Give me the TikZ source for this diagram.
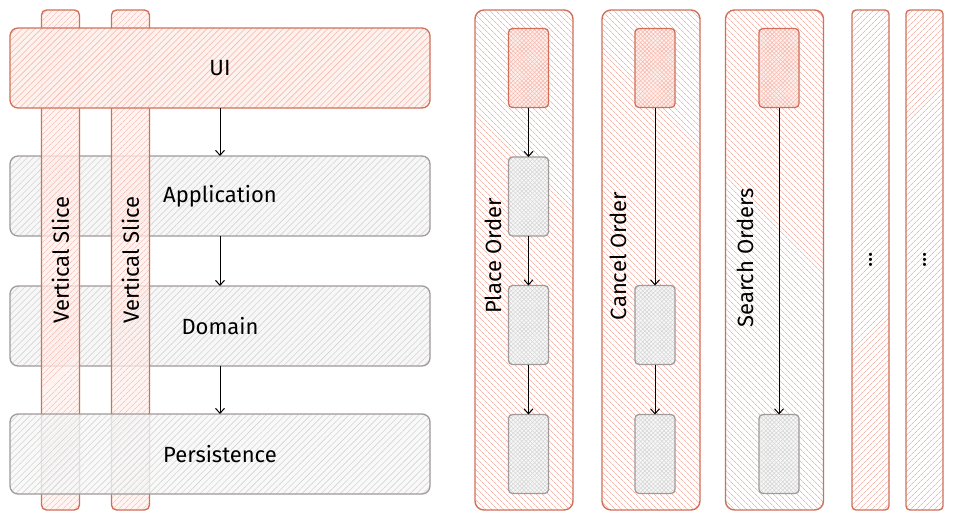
\documentclass[tikz,border=0pt]{standalone}
\usepackage{fontspec}
\setmainfont{Fira Sans}
\usepackage{tikz}
\usetikzlibrary{arrows.meta,patterns.meta}

\definecolor{slicered}{HTML}{D0705A}
\definecolor{slicepink}{HTML}{F5B7AC}
\definecolor{slicepale}{HTML}{FFF0EC}
\definecolor{layergrey}{HTML}{A19A9A}
\definecolor{layerhatch}{HTML}{D4D4D4}
\definecolor{layerpale}{HTML}{F7F7F7}

\begin{document}
\begin{tikzpicture}[x=1pt, y=-1pt,
    font=\fontsize{22}{26}\selectfont,
    every node/.style={inner sep=0pt, outer sep=0pt},
    layer/.style={draw=layergrey, line width=1.3pt, rounded corners=8pt,
        minimum width=420pt, minimum height=80pt,
        preaction={fill=layerpale},
        pattern={Lines[angle=45, distance=4.5pt, line width=.6pt]},
        pattern color=layerhatch},
    uilayer/.style={layer, draw=slicered, fill opacity=.8, text opacity=1,
        preaction={fill=slicepale},
        pattern color=slicepink},
    slice/.style={draw=slicered, line width=1.4pt, rounded corners=5pt,
        minimum width=500pt, minimum height=38pt, rotate=90,
        fill opacity=.75, text opacity=1,
        preaction={fill=slicepale},
        pattern={Lines[angle=45, distance=4pt, line width=.7pt]},
        pattern color=slicepink},
    column/.style={draw=slicered, line width=1.4pt, rounded corners=9pt,
        minimum width=98pt, minimum height=500pt,
        preaction={fill=white},
        pattern={Lines[angle=-45, distance=4pt, line width=.7pt]},
        pattern color=slicepink},
    thincol/.style={column, rounded corners=4pt, minimum width=500pt,
        minimum height=37pt, rotate=90,
        pattern={Lines[angle=45, distance=4pt, line width=.7pt]}},
    cell/.style={draw=layergrey, line width=1.3pt, rounded corners=4pt,
        minimum width=40pt, minimum height=79pt,
        preaction={fill=layerpale},
        preaction={pattern={Lines[angle=45, distance=3pt, line width=.5pt]},
            pattern color=layerhatch},
        pattern={Lines[angle=-45, distance=3pt, line width=.5pt]},
        pattern color=layerhatch},
    hotcell/.style={cell, draw=slicered,
        preaction={fill=slicepale},
        preaction={pattern={Lines[angle=45, distance=3pt, line width=.5pt]},
            pattern color=slicepink},
        pattern color=slicepink},
    flow/.style={-{Straight Barb[length=5pt, width=9pt]}, line width=1pt, black}]

    \useasboundingbox (0,0) rectangle (954,522);

    % layers
    \node[layer] (app) at (220,196) {Application};
    \node[layer] (dom) at (220,326) {Domain};
    \node[slice] (vs1) at (60.5,260) {Vertical Slice};
    \node[slice] (vs2) at (130.5,260) {Vertical Slice};
    \node[uilayer] (ui) at (220,68) {UI};
    \node[layer, fill opacity=.8, text opacity=1] (per) at (220,454) {Persistence};
    \draw[flow] (ui) -- (app);
    \draw[flow] (app) -- (dom);
    \draw[flow] (dom) -- (per);

    % slices
    \node[column] (place) at (524,260) {};
    \node[column] (cancel) at (651,260) {};
    \node[column] (search) at (774.5,260) {};
    \node[thincol] (more1) at (870.5,260) {...};
    \node[thincol] (more2) at (924.5,260) {...};

    \node[hotcell] (po1) at (528.5,68) {};
    \node[cell] (po2) at (528.5,196.5) {};
    \node[cell] (po3) at (528.5,325) {};
    \node[cell] (po4) at (528.5,454) {};
    \node[hotcell] (co1) at (655,68) {};
    \node[cell] (co3) at (655,325) {};
    \node[cell] (co4) at (655,454) {};
    \node[hotcell] (so1) at (779,68) {};
    \node[cell] (so4) at (779,454) {};

    \draw[flow] (po1) -- (po2);
    \draw[flow] (po2) -- (po3);
    \draw[flow] (po3) -- (po4);
    \draw[flow] (co1) -- (co3);
    \draw[flow] (co3) -- (co4);
    \draw[flow] (so1) -- (so4);

    \node[rotate=90] (placelbl) at (493,256) {Place Order};
    \node[rotate=90] (cancellbl) at (618,256) {Cancel Order};
    \node[rotate=90] (searchlbl) at (745,258) {Search Orders};
\end{tikzpicture}
\end{document}
